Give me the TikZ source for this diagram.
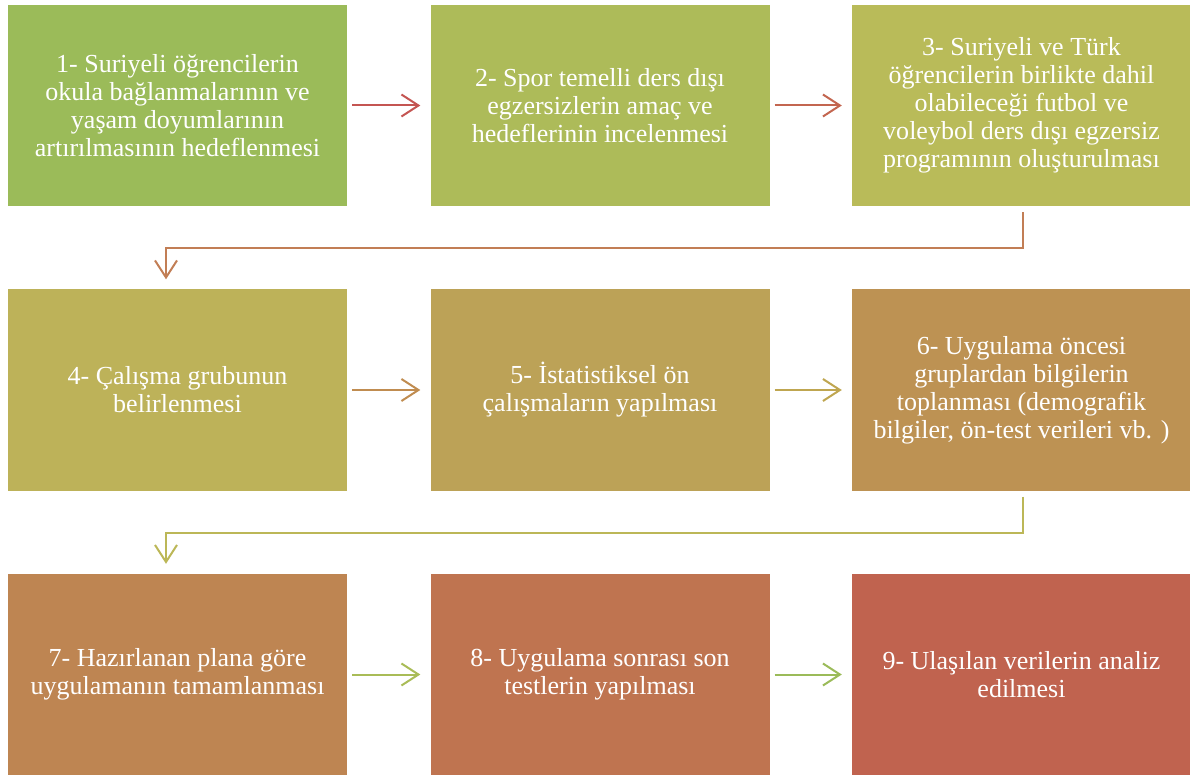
\documentclass[tikz,border=0pt]{standalone}
\usepackage{fontspec}
\setmainfont{Liberation Serif}
\usetikzlibrary{arrows.meta,positioning}
\definecolor{boxa}{HTML}{9BBB59}
\definecolor{boxb}{HTML}{ADBB59}
\definecolor{boxc}{HTML}{B9BB59}
\definecolor{boxd}{HTML}{BDB259}
\definecolor{boxe}{HTML}{BCA257}
\definecolor{boxf}{HTML}{BD9253}
\definecolor{boxg}{HTML}{BE8552}
\definecolor{boxh}{HTML}{BF7450}
\definecolor{boxi}{HTML}{C0634F}
\definecolor{arra}{HTML}{C45552}
\definecolor{arrb}{HTML}{C36650}
\definecolor{arrc}{HTML}{C27E55}
\definecolor{arrd}{HTML}{C08C50}
\definecolor{arre}{HTML}{BFA650}
\definecolor{arrf}{HTML}{BCB757}
\definecolor{arrg}{HTML}{A9BC57}
\definecolor{arrh}{HTML}{9BBB59}
\tikzset{stepbox/.style={minimum width=339pt,minimum height=201pt,inner sep=0pt,
  align=center,text=white,font=\fontsize{26}{28}\selectfont}}
\tikzset{flow/.style={line width=2pt,-{Straight Barb[length=17pt,width=22pt]}}}

\begin{document}
\begin{tikzpicture}[x=1pt,y=-1pt]
  \useasboundingbox (0,0) rectangle (1190,775);
  \node[stepbox,fill=boxa] (b1) at (177.5,105.5) {1- Suriyeli öğrencilerin\\okula bağlanmalarının ve\\yaşam doyumlarının\\artırılmasının hedeflenmesi};
  \node[stepbox,fill=boxb] (b2) at (600,105.5) {2- Spor temelli ders dışı\\egzersizlerin amaç ve\\hedeflerinin incelenmesi};
  \node[stepbox,fill=boxc] (b3) at (1021.5,105.5) {3- Suriyeli ve Türk\\öğrencilerin birlikte dahil\\olabileceği futbol ve\\voleybol ders dışı egzersiz\\programının oluşturulması};
  \node[stepbox,fill=boxd] (b4) at (177.5,390) {4- Çalışma grubunun\\belirlenmesi};
  \node[stepbox,fill=boxe] (b5) at (600,390) {5- İstatistiksel ön\\çalışmaların yapılması};
  \node[stepbox,fill=boxf] (b6) at (1021.5,390) {6- Uygulama öncesi\\gruplardan bilgilerin\\toplanması (demografik\\bilgiler, ön-test verileri vb. )};
  \node[stepbox,fill=boxg] (b7) at (177.5,674.5) {7- Hazırlanan plana göre\\uygulamanın tamamlanması};
  \node[stepbox,fill=boxh] (b8) at (600,674.5) {8- Uygulama sonrası son\\testlerin yapılması};
  \node[stepbox,fill=boxi] (b9) at (1021.5,674.5) {9- Ulaşılan verilerin analiz\\edilmesi};
  % arrows inside the rows
  \foreach \s/\t/\c in {b1/b2/arra, b2/b3/arrb, b4/b5/arrd, b5/b6/arre, b7/b8/arrg, b8/b9/arrh}{
    \draw[flow,\c] ([xshift=5pt]\s.east) -- ([xshift=-10pt]\t.west);
  };
  % links between rows
  \draw[flow,arrc] ([xshift=1.5pt,yshift=-6pt]b3.south) -- ++(0,36) -| ([xshift=-11.5pt,yshift=10pt]b4.north);
  \draw[flow,arrf] ([xshift=1.5pt,yshift=-6pt]b6.south) -- ++(0,36) -| ([xshift=-11.5pt,yshift=10pt]b7.north);
\end{tikzpicture}
\end{document}
